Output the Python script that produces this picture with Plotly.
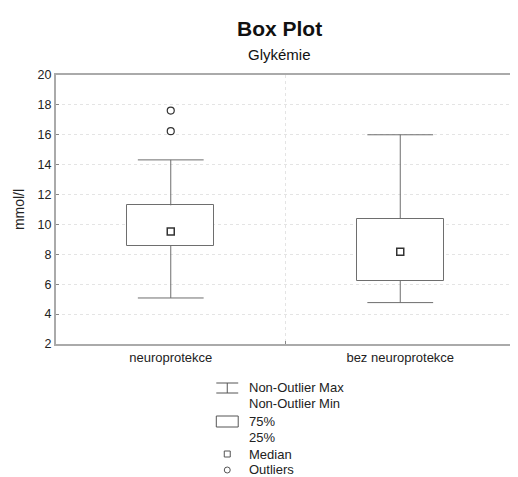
import plotly.graph_objects as go

# ---- data ----
categories = ["neuroprotekce", "bez neuroprotekce"]
q1 = [8.56, 6.22]
median = [9.52, 8.18]
q3 = [11.28, 10.39]
whisker_min = [5.08, 4.77]
whisker_max = [14.32, 16.0]
outlier_group = [0, 0]
outlier_values = [17.62, 16.24]
y_ticks = [2, 4, 6, 8, 10, 12, 14, 16, 18, 20]

# page body has an 8px margin; figure sits at (8, 8)
OFF = 8
W, H = 510, 469
ML, MR, MT, MB = 48, 1, 67, 133
PW, PH = W - ML - MR, H - MT - MB

BOX_COL = "#6e6e6e"
DARK = "#333333"
GRID = "#e4e4e4"
FONT = "Liberation Sans, Arial, sans-serif"

xpos = list(range(len(categories)))

fig = go.Figure()

# boxes (25%-75%)
fig.add_trace(go.Bar(
    x=xpos, base=q1, y=[b - a for a, b in zip(q1, q3)], width=0.377,
    marker=dict(color="white", line=dict(color=BOX_COL, width=1)),
    showlegend=False, hoverinfo="skip"))

# whisker stems
wx, wy = [], []
for i in xpos:
    wx += [i, i, None, i, i, None]
    wy += [q3[i], whisker_max[i], None, q1[i], whisker_min[i], None]
fig.add_trace(go.Scatter(x=wx, y=wy, mode="lines", line=dict(color=BOX_COL, width=1),
                         showlegend=False, hoverinfo="skip"))
# whisker caps
fig.add_trace(go.Scatter(
    x=xpos + xpos, y=whisker_max + whisker_min, mode="markers",
    marker=dict(symbol="line-ew-open", size=47, color=BOX_COL, line=dict(width=1, color=BOX_COL)),
    showlegend=False))

# medians
fig.add_trace(go.Scatter(
    x=xpos, y=median, mode="markers",
    marker=dict(symbol="square-open", size=7, color=DARK, line=dict(width=1.5, color=DARK)),
    showlegend=False))

# outliers
fig.add_trace(go.Scatter(
    x=outlier_group, y=outlier_values, mode="markers",
    marker=dict(symbol="circle-open", size=7, color=DARK, line=dict(width=1.2, color=DARK)),
    showlegend=False))

fig.update_layout(
    width=W, height=H,
    margin=dict(l=ML, r=MR, t=MT, b=MB),
    paper_bgcolor="white", plot_bgcolor="white",
    font=dict(family=FONT, size=13, color="#222"),
    bargap=0,
)

fig.update_xaxes(
    range=[-0.5, len(categories) - 0.5],
    tickvals=xpos, ticktext=categories, ticks="", showgrid=False,
    zeroline=False, showline=True, linecolor="#aaaaaa", linewidth=2, mirror=True,
    tickfont=dict(size=13, color="#222"),
    minor=dict(tickvals=[0.5], showgrid=True, gridcolor=GRID, griddash="dot",
               gridwidth=1, ticks="inside", ticklen=3, tickcolor="#888"),
)
fig.update_yaxes(
    range=[2, 20], tickvals=y_ticks, ticks="inside", ticklen=3, tickcolor="#888",
    showgrid=True, gridcolor=GRID, griddash="dot", gridwidth=1,
    zeroline=False, showline=True, linecolor="#aaaaaa", linewidth=2, mirror="ticks",
    tickfont=dict(size=12.5, color="#222"),
    title=dict(text="mmol/l", font=dict(size=14, color="#222"), standoff=10),
)

# helpers: page pixel -> paper coords
def px(x):
    return (x - OFF - ML) / PW

def py(y):
    return (H - MB - (y - OFF)) / PH

# titles
fig.add_annotation(text="<b>Box Plot</b>", x=px(280), y=py(29), xref="paper", yref="paper",
                   showarrow=False, font=dict(size=21, color="#111"), xanchor="center", yanchor="middle")
fig.add_annotation(text="Glykémie", x=px(280), y=py(54), xref="paper", yref="paper",
                   showarrow=False, font=dict(size=15, color="#111"), xanchor="center", yanchor="middle")

# legend (drawn manually)
LEG_COL = "#555555"
shapes = [
    dict(type="line", x0=px(217), x1=px(239), y0=py(383), y1=py(383)),
    dict(type="line", x0=px(217), x1=px(239), y0=py(393), y1=py(393)),
    dict(type="line", x0=px(228), x1=px(228), y0=py(383), y1=py(393)),
    dict(type="rect", x0=px(217), x1=px(239), y0=py(416), y1=py(427)),
    dict(type="rect", x0=px(225), x1=px(231), y0=py(451), y1=py(457)),
    dict(type="circle", x0=px(225), x1=px(231), y0=py(467), y1=py(473)),
]
for s in shapes:
    s.update(xref="paper", yref="paper", line=dict(color=LEG_COL, width=1))
    fig.add_shape(**s)

leg_texts = [("Non-Outlier Max", 387), ("Non-Outlier Min", 403), ("75%", 421),
             ("25%", 437), ("Median", 454), ("Outliers", 469)]
for t, yy in leg_texts:
    fig.add_annotation(text=t, x=px(248), y=py(yy), xref="paper", yref="paper",
                       showarrow=False, xanchor="left", yanchor="middle",
                       font=dict(size=13, color="#222"))

fig.write_html("out.html")
